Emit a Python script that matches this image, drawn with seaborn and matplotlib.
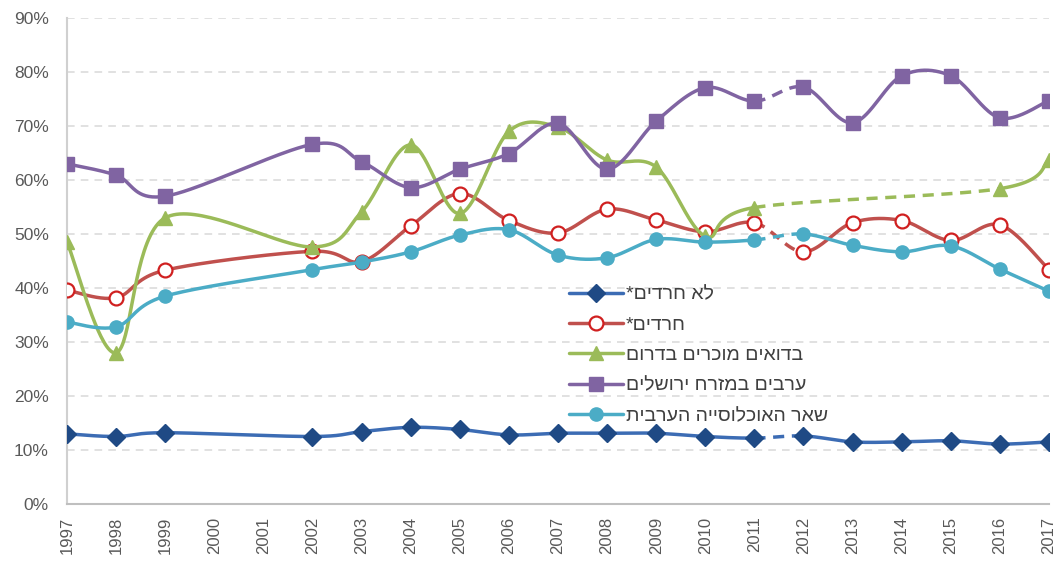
import numpy as np
import pandas as pd
import matplotlib
matplotlib.use("Agg")
import matplotlib.pyplot as plt
import seaborn as sns
from matplotlib.lines import Line2D
from matplotlib.ticker import FuncFormatter

# ---------------- data ----------------
years = [1997, 1998, 1999, 2002, 2003, 2004, 2005, 2006, 2007, 2008, 2009,
         2010, 2011, 2012, 2013, 2014, 2015, 2016, 2017]

not_haredim = [13.0, 12.5, 13.2, 12.5, 13.4, 14.2, 13.8, 12.8, 13.1, 13.1, 13.1,
               12.5, 12.2, 12.6, 11.5, 11.5, 11.7, 11.1, 11.5]
haredim = [39.6, 38.2, 43.3, 46.8, 44.9, 51.5, 57.5, 52.5, 50.2, 54.6, 52.6,
           50.4, 52.1, 46.7, 52.1, 52.5, 48.8, 51.7, 43.4]
bedouin = [48.5, 28.0, 53.0, 47.6, 54.1, 66.5, 53.8, 69.0, 69.8, 63.7, 62.4,
           49.6, 54.9, None, None, None, None, 58.4, 63.7]
east_jerusalem = [63.0, 60.9, 57.0, 66.6, 63.4, 58.6, 62.0, 64.9, 70.5, 62.0, 70.9,
                  77.1, 74.6, 77.2, 70.6, 79.3, 79.3, 71.5, 74.7]
other_arab = [33.7, 32.8, 38.5, 43.4, 44.8, 46.7, 49.8, 50.8, 46.1, 45.6, 49.0,
              48.5, 48.9, 50.0, 47.9, 46.7, 47.8, 43.5, 39.4]

labels = ["לא חרדים*", "חרדים*", "בדואים מוכרים בדרום",
          "ערבים במזרח ירושלים", "שאר האוכלוסייה הערבית"]
series = [not_haredim, haredim, bedouin, east_jerusalem, other_arab]
dashed_from = 2011  # segment starting at 2011 is dashed

line_colors = ["#3C6CB4", "#C0504D", "#9BBB59", "#8064A2", "#4BACC6"]
marker_face = ["#1F4A85", "white", "#9BBB59", "#8064A2", "#4BACC6"]
marker_edge = ["#1F4A85", "#D02020", "#9BBB59", "#8064A2", "#4BACC6"]
markers = ["D", "o", "^", "s", "o"]
msizes = [9.5, 10, 10, 9.5, 9.5]

# ---------------- helpers ----------------
def smooth_segments(xs, ys, n=40):
    P = np.column_stack([xs, ys]).astype(float)
    segs = []
    m = len(P)
    for i in range(m - 1):
        p0 = P[i - 1] if i > 0 else P[i]
        p1, p2 = P[i], P[i + 1]
        p3 = P[i + 2] if i + 2 < m else P[i + 1]
        c1 = p1 + (p2 - p0) / 6.0
        c2 = p2 - (p3 - p1) / 6.0
        t = np.linspace(0, 1, n)[:, None]
        B = ((1 - t) ** 3) * p1 + 3 * ((1 - t) ** 2) * t * c1 + 3 * (1 - t) * t ** 2 * c2 + t ** 3 * p2
        segs.append((p1[0], B))
    return segs

def rtl(s):
    return s[::-1]

# ---------------- plot ----------------
sns.set_theme(style="white")
plt.rcParams["font.family"] = ["Liberation Sans", "DejaVu Sans"]

fig = plt.figure(figsize=(10.6, 5.63), dpi=100)
ax = fig.add_axes([67 / 1060, 59 / 563, (1049 - 67) / 1060, (504 - 18) / 563])

for k, vals in enumerate(series):
    df = pd.DataFrame({"year": years, "val": vals}).dropna()
    xs = df["year"].to_numpy(float)
    ys = df["val"].to_numpy(float)
    segs = smooth_segments(xs, ys)
    solid_pts = []
    for x0, B in segs:
        if x0 == dashed_from:
            if solid_pts:
                arr = np.vstack(solid_pts)
                sns.lineplot(x=arr[:, 0], y=arr[:, 1], ax=ax, sort=False, estimator=None,
                             color=line_colors[k], lw=2.5, zorder=2 + k)
                solid_pts = []
            sns.lineplot(x=B[:, 0], y=B[:, 1], ax=ax, sort=False, estimator=None,
                         color=line_colors[k], lw=2.5, dashes=False, zorder=2 + k,
                         linestyle=(0, (3.2, 2.2)))
        else:
            solid_pts.append(B)
    if solid_pts:
        arr = np.vstack(solid_pts)
        sns.lineplot(x=arr[:, 0], y=arr[:, 1], ax=ax, sort=False, estimator=None,
                     color=line_colors[k], lw=2.5, zorder=2 + k)
    ax.plot(xs, ys, linestyle="none", marker=markers[k], ms=msizes[k],
            mfc=marker_face[k], mec=marker_edge[k], mew=1.6 if k == 1 else 1.0,
            zorder=3 + k)

ax.set_xlim(1997, 2017)
ax.set_ylim(0, 90)
ax.set_xticks(range(1997, 2018))
ax.set_xticklabels([str(y) for y in range(1997, 2018)], rotation=90)
ax.set_yticks(range(0, 91, 10))
ax.yaxis.set_major_formatter(FuncFormatter(lambda v, p: f"{int(v)}%"))
ax.tick_params(axis="both", length=0, colors="#595959")
ax.tick_params(axis="y", pad=13, labelsize=12.5)
ax.tick_params(axis="x", pad=9, labelsize=12)
ax.set_xlabel("")
ax.set_ylabel("")
ax.grid(axis="y", color="#D9D9D9", linestyle=(0, (5, 4)), lw=1.1)
ax.grid(axis="x", visible=False)
for side in ["top", "right"]:
    ax.spines[side].set_visible(False)
ax.spines["left"].set_color("#D0D0D0")
ax.spines["left"].set_linewidth(1.5)
ax.spines["bottom"].set_color("#BFBFBF")
ax.spines["bottom"].set_linewidth(1.5)

handles = []
for k in range(5):
    handles.append(Line2D([0], [0], color=line_colors[k], lw=2.5, marker=markers[k],
                          ms=msizes[k], mfc=marker_face[k], mec=marker_edge[k],
                          mew=1.6 if k == 1 else 1.0))
leg = ax.legend(handles, [rtl(s) for s in labels], loc="upper left",
                bbox_to_anchor=(559 / 1060, (563 - 276) / 563), bbox_transform=fig.transFigure,
                frameon=False, fontsize=14, handlelength=2.8, handletextpad=0.15,
                labelspacing=0.66, borderpad=0)
for t in leg.get_texts():
    t.set_color("#404040")

fig.savefig("out.png", dpi=100)
